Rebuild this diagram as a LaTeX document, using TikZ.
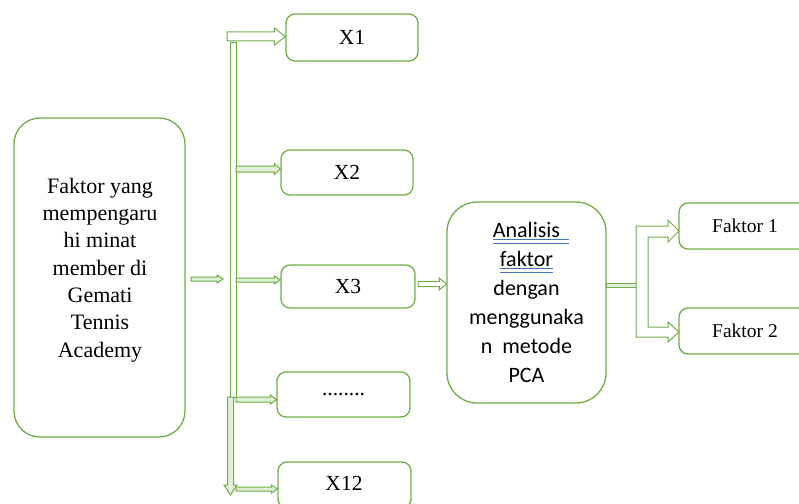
\documentclass[tikz,border=0pt]{standalone}
\usepackage{fontspec}
\setmainfont{Liberation Serif}
\newfontfamily\calibri{Carlito}
\usetikzlibrary{calc}
\definecolor{hijau}{HTML}{70AD47}
\definecolor{ulbiru}{HTML}{4472C4}
% garis bawah ganda (biru) seperti di Word
\newcommand{\dblul}[2][0pt]{\setbox0\hbox{#2}\rlap{\color{ulbiru}\rule[-2.5pt]{\dimexpr\wd0+#1\relax}{0.9pt}}\rlap{\color{ulbiru}\rule[-6pt]{\dimexpr\wd0+#1\relax}{0.9pt}}\box0}
\tikzset{
  kotak/.style={draw=hijau, line width=1.3pt, rounded corners=9pt, font=\fontsize{21.5}{26}\selectfont},
  garis/.style={draw=hijau, line width=1pt, fill=white},
  tipis/.style={draw=hijau, line width=1pt, fill=hijau!20},
  panah/.style n args={3}{to path={let \p1=(\tikztostart), \p2=(\tikztotarget) in
    (\x1,\y1+#1) -- (\x2-#3,\y1+#1) -- (\x2-#3,\y1+#2) -- (\x2,\y1) -- (\x2-#3,\y1-#2) -- (\x2-#3,\y1-#1) -- (\x1,\y1-#1) -- cycle}},
}
\begin{document}
\begin{tikzpicture}[x=1pt,y=-1pt]
\useasboundingbox (0,0) rectangle (799,503);
% kotak kiri
\node [kotak, rounded corners=26pt, minimum width=171, minimum height=319] (main) at (99.5,277.5) {};
\node [align=center, font=\fontsize{22}{27.3}\selectfont] (maintext) at (100,270) {Faktor yang\\mempengaru\\hi minat\\member di\\Gemati\\Tennis\\Academy};
% variabel X
\node [kotak, minimum width=132, minimum height=47] (x1) at (352,37.5) {X1};
\node [kotak, minimum width=132, minimum height=45] (x2) at (347,172.5) {X2};
\node [kotak, minimum width=134, minimum height=43] (x3) at (348,286.5) {X3};
\node [kotak, minimum width=133, minimum height=45] (xdots) at (343.5,394.5) {........};
\node [kotak, minimum width=133, minimum height=46] (x12) at (344.5,485) {};
\node (x12text) at (344,483) {\fontsize{21.5}{26}\selectfont X12};
% analisis faktor
\node [kotak, rounded corners=30pt, minimum width=159, minimum height=201, align=center,
       font=\calibri\fontsize{22}{29}\selectfont] (pca) at (526.5,302.5)
  {\dblul[9pt]{Analisis}\\\dblul{faktor}\\dengan\\menggunaka\\n\ \ metode\\PCA};
% faktor
\node [kotak, minimum width=132, minimum height=46, font=\fontsize{19.5}{24}\selectfont] (f1) at (745,226) {Faktor 1};
\node [kotak, minimum width=132, minimum height=46, font=\fontsize{19.5}{24}\selectfont] (f2) at (745,331) {Faktor 2};

% batang tegak dan panah ke bawah
\draw [garis] (230,43) rectangle (236,397);
\draw [tipis] (227.5,397) -- (227.5,485) -- (224,485) -- (230.5,495) -- (237,485) -- (233.5,485) -- (233.5,397) -- cycle;
\coordinate (masuk) at (191,279);
\coordinate (atas) at (227,36.5);
\draw [tipis] (masuk) to[panah={2}{4}{6}] (223,279);
\draw [garis] (atas) to[panah={4.5}{8.5}{11}] (x1.west);
\draw [tipis] (236,169) to[panah={3}{5.5}{6}] (x2.west);
\draw [tipis] (236,280) to[panah={2}{4}{6}] (x3.west);
\draw [tipis] (236,399.5) to[panah={2.5}{4.5}{6}] (xdots.west);
\draw [tipis] (236,489) to[panah={2}{4}{6}] (x12.west);
% X3 ke analisis
\draw [garis] (418,284) to[panah={2.5}{6}{7}] (pca.west);
% cabang ke faktor
\draw [tipis] (pca.east |- 0,283) rectangle (636,287);
\draw [garis] (636,226) -- (668,226) -- (668,220) -- (679,231) -- (668,242) -- (668,237) -- (648,237)
  -- (648,327) -- (668,327) -- (668,322) -- (679,332) -- (668,342) -- (668,337) -- (636,337) -- cycle;
\end{tikzpicture}
\end{document}
